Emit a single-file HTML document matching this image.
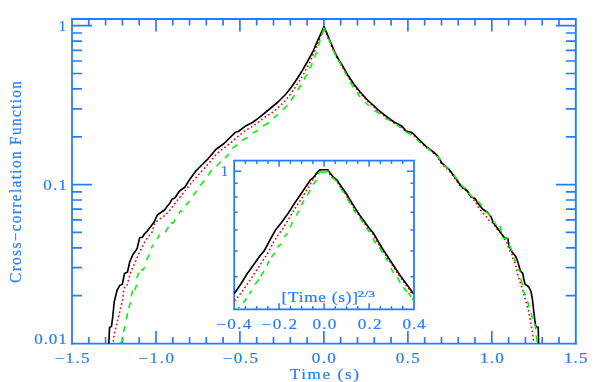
<!DOCTYPE html>
<html><head><meta charset="utf-8"><title>Cross-correlation Function</title>
<style>html,body{margin:0;padding:0;background:#fff;}body{width:599px;height:382px;overflow:hidden;font-family:"Liberation Serif",serif;}svg{display:block;}</style></head>
<body>
<svg width="599" height="382" viewBox="0 0 599 382">
<rect width="599" height="382" fill="#fff"/>
<g stroke="#257cff" stroke-width="1.9" fill="none" stroke-linecap="butt">
<path d="M72.00 18.95H575.80V343.65" stroke-width="1.9" stroke-linecap="square"/>
<path d="M72.00 18.95V343.65" stroke-width="1.8" stroke-linecap="square"/>
<path d="M71.10 343.65H576.70" stroke-width="1.6"/>
<path d="M88.8 343.6v-6.5M88.8 18.9v6.5M105.6 343.6v-6.5M105.6 18.9v6.5M122.4 343.6v-6.5M122.4 18.9v6.5M139.2 343.6v-6.5M139.2 18.9v6.5M156.0 343.6v-12.5M156.0 18.9v12.5M172.8 343.6v-6.5M172.8 18.9v6.5M189.6 343.6v-6.5M189.6 18.9v6.5M206.3 343.6v-6.5M206.3 18.9v6.5M223.1 343.6v-6.5M223.1 18.9v6.5M239.9 343.6v-12.5M239.9 18.9v12.5M256.7 343.6v-6.5M256.7 18.9v6.5M273.5 343.6v-6.5M273.5 18.9v6.5M290.3 343.6v-6.5M290.3 18.9v6.5M307.1 343.6v-6.5M307.1 18.9v6.5M323.9 343.6v-12.5M323.9 18.9v12.5M340.7 343.6v-6.5M340.7 18.9v6.5M357.5 343.6v-6.5M357.5 18.9v6.5M374.3 343.6v-6.5M374.3 18.9v6.5M391.1 343.6v-6.5M391.1 18.9v6.5M407.9 343.6v-12.5M407.9 18.9v12.5M424.7 343.6v-6.5M424.7 18.9v6.5M441.5 343.6v-6.5M441.5 18.9v6.5M458.2 343.6v-6.5M458.2 18.9v6.5M475.0 343.6v-6.5M475.0 18.9v6.5M491.8 343.6v-12.5M491.8 18.9v12.5M508.6 343.6v-6.5M508.6 18.9v6.5M525.4 343.6v-6.5M525.4 18.9v6.5M542.2 343.6v-6.5M542.2 18.9v6.5M559.0 343.6v-6.5M559.0 18.9v6.5M72.0 25.7h20.0M575.8 25.7h-20.0M72.0 184.6h20.0M575.8 184.6h-20.0M72.0 136.8h10.0M575.8 136.8h-10.0M72.0 108.8h10.0M575.8 108.8h-10.0M72.0 88.9h10.0M575.8 88.9h-10.0M72.0 73.5h10.0M575.8 73.5h-10.0M72.0 61.0h10.0M575.8 61.0h-10.0M72.0 50.3h10.0M575.8 50.3h-10.0M72.0 41.1h10.0M575.8 41.1h-10.0M72.0 33.0h10.0M575.8 33.0h-10.0M72.0 295.7h10.0M575.8 295.7h-10.0M72.0 267.7h10.0M575.8 267.7h-10.0M72.0 247.8h10.0M575.8 247.8h-10.0M72.0 232.4h10.0M575.8 232.4h-10.0M72.0 219.9h10.0M575.8 219.9h-10.0M72.0 209.2h10.0M575.8 209.2h-10.0M72.0 200.0h10.0M575.8 200.0h-10.0M72.0 191.9h10.0M575.8 191.9h-10.0" stroke-width="1.7"/>
</g>
<g fill="none" stroke-linejoin="round" stroke-linecap="butt">
<polyline points="113.3,340.9 114.5,332.8 117.5,320.8 120.5,308.3 122.7,299.8 123.5,291.8 124.2,287.8 126.8,286.3 128.7,278.8 131.3,270.5 135.0,262.7 138.3,254.8 139.8,251.0 142.2,248.0 143.0,245.0 147.5,237.5 152.0,232.3 154.3,224.0 158.8,219.5 165.5,215.0 170.0,210.0 175.0,203.5 181.8,194.8 188.5,186.5 195.3,178.3 202.0,170.8 208.8,163.3 215.8,154.8 222.8,148.8 230.0,143.5 236.8,137.5 245.0,130.8 252.6,126.3 260.0,121.0 265.3,116.8 273.5,111.8 281.0,105.0 288.5,96.8 294.5,88.5 299.8,80.3 304.3,72.8 305.3,70.6 309.8,62.3 314.3,51.8 317.7,43.5 320.3,36.8 322.5,30.6 324.0,26.9 326.4,34.0 330.3,43.5 334.8,54.0 339.3,62.2 341.5,65.5 347.5,76.0 353.5,85.0 359.5,92.5 367.0,100.7 374.5,107.5 377.0,110.0 384.5,116.0 393.5,122.7 398.0,125.0 401.8,127.2 405.5,131.7 411.5,133.2 414.5,136.2 420.5,142.2 425.5,147.0 431.5,151.5 436.8,156.0 441.3,163.5 448.0,169.5 453.3,176.2 458.5,183.7 461.3,187.5 467.0,191.2 470.8,197.2 475.0,201.0 476.0,202.5 477.5,206.3 479.8,209.3 482.8,212.7 485.8,216.0 488.3,219.8 491.8,221.8 494.3,225.0 496.7,228.8 499.7,231.8 502.3,235.3 504.5,239.0 506.8,242.3 508.3,246.8 509.8,250.5 512.0,254.3 512.8,258.0 514.3,261.8 515.8,265.8 516.8,270.0 517.7,274.3 518.7,278.0 521.3,285.8 523.8,294.2 526.2,302.3 528.3,310.3 530.0,318.5 531.5,326.8 532.2,330.9 533.8,343.6" stroke="#ff0000" stroke-width="1.75" stroke-dasharray="0.1 4.1" stroke-linecap="round"/>
<polyline points="108.8,343.6 109.6,327.2 111.5,326.5 112.7,317.0 114.2,302.0 116.0,294.5 117.2,290.0 120.0,285.2 122.3,284.3 124.5,273.5 127.5,272.0 129.8,261.5 132.8,254.8 136.5,249.5 137.2,248.2 139.7,237.5 142.2,237.5 144.5,233.8 147.5,230.8 154.3,221.8 157.3,215.0 164.8,209.8 166.8,206.8 170.0,203.0 172.0,199.2 175.0,197.8 179.5,191.0 184.8,187.3 190.0,179.0 196.0,170.8 202.8,164.0 208.0,158.8 209.8,156.8 215.8,149.5 224.0,143.5 235.3,132.3 238.3,131.5 245.0,126.3 252.6,122.5 260.0,116.8 269.0,109.5 278.0,102.0 285.5,94.5 291.5,87.0 297.6,78.0 301.5,71.8 307.5,61.5 313.5,50.3 318.0,39.8 321.9,31.4 324.0,26.5 326.9,33.3 330.8,42.8 335.3,53.3 339.8,61.5 342.0,64.8 348.0,75.3 354.0,84.3 360.0,91.8 367.5,100.0 375.0,106.8 377.5,109.3 385.0,115.3 394.0,122.0 398.5,124.3 402.3,126.5 406.0,131.0 412.0,132.5 415.0,135.5 421.0,141.5 426.0,146.3 432.0,150.8 437.3,155.3 441.8,162.8 448.5,168.8 453.8,175.5 459.0,183.0 461.8,186.8 467.0,190.5 470.8,196.5 475.3,198.8 478.3,204.0 482.8,209.3 487.3,212.3 491.0,216.8 493.3,222.8 495.5,225.5 500.0,231.8 504.5,237.8 507.8,238.5 509.0,245.3 512.0,252.0 515.8,256.5 518.0,262.5 520.3,270.8 522.8,273.3 523.8,279.0 525.0,284.0 528.8,287.0 531.0,291.5 532.5,299.8 533.7,311.0 535.2,323.0 535.8,326.8 538.2,327.3 538.6,343.6" stroke="#000" stroke-width="1.65"/>
<path d="M119.8 342.7L122.0 341.8L123.1 338.0M123.5 332.0L125.0 326.0M126.2 319.3L127.7 313.3M128.8 308.0L130.5 302.3M131.2 296.4L132.6 290.5M135.0 290.0L136.5 284.8M136.8 278.0L138.8 272.8M141.0 269.0L142.5 270.2L144.8 267.2M146.6 260.2L149.2 254.5M151.1 248.4L153.2 244.6M157.3 239.0L159.5 234.5M165.2 232.3L168.5 227.0M170.8 222.5L173.0 223.3L175.3 219.5M179.0 213.5L180.5 211.0L182.7 211.3M185.6 205.2L189.6 201.1M193.0 195.5L196.8 191.0M200.2 185.8L204.3 180.5M208.0 175.3L211.8 170.0M216.3 166.3L220.8 161.8M225.0 157.8L229.0 154.0M232.3 148.3L237.5 144.7M242.0 140.5L247.7 137.5M252.6 133.0L257.8 130.5M263.0 126.3L269.0 122.5M273.5 117.8L277.8 114.5M282.7 110.0L287.4 105.2M290.8 100.5L294.5 95.3M297.6 90.0L301.3 84.8M303.9 79.5L306.9 74.3M309.7 68.3L312.3 63.4M314.3 57.8L316.8 51.8M318.1 46.0L320.2 40.2M321.9 34.9L324.1 27.9L325.3 31.3M328.4 38.2L330.8 43.8M333.0 49.3L336.0 56.3M338.3 59.8L341.3 65.5M344.3 70.8L346.5 75.3M350.3 82.0L353.3 87.3M357.0 92.5L360.0 97.0M365.3 102.3L369.0 106.0M374.6 110.5L379.8 113.8M385.0 118.3L390.3 120.5M396.3 124.3L400.8 128.0M406.0 131.8L411.3 135.2M416.5 139.3L420.3 143.0M426.9 147.6L430.6 150.8M437.3 156.0L440.3 159.8M444.0 165.0L448.5 168.8M453.8 174.8L456.8 179.3M460.8 184.5L464.9 188.3M468.5 192.8L473.0 198.0M477.5 201.0L482.0 205.5M485.8 211.5L490.3 216.0M493.3 221.3L496.3 225.0M500.0 226.0L501.3 231.8M502.3 237.8L507.5 238.8M509.0 244.5L512.0 251.3M513.5 257.3L515.8 262.5M516.5 269.8L518.8 270.0L520.3 271.8M520.7 278.5L522.8 285.5M522.8 290.0L525.8 295.3M527.3 301.3L529.5 307.3M531.0 313.3L532.8 319.3M534.8 323.8L535.9 329.5M536.3 335.5L537.3 342.8" stroke="#05f505" stroke-width="1.6"/>
</g>
<g stroke="#257cff" stroke-width="1.9" fill="none" stroke-linecap="butt">
<rect x="234.20" y="160.60" width="179.80" height="148.75" stroke-width="1.8"/>
<path d="M245.4 309.4v-3.3M245.4 160.6v3.3M256.7 309.4v-3.3M256.7 160.6v3.3M267.9 309.4v-3.3M267.9 160.6v3.3M279.1 309.4v-6.2M279.1 160.6v6.2M290.4 309.4v-3.3M290.4 160.6v3.3M301.6 309.4v-3.3M301.6 160.6v3.3M312.9 309.4v-3.3M312.9 160.6v3.3M324.1 309.4v-6.2M324.1 160.6v6.2M335.3 309.4v-3.3M335.3 160.6v3.3M346.6 309.4v-3.3M346.6 160.6v3.3M357.8 309.4v-3.3M357.8 160.6v3.3M369.1 309.4v-6.2M369.1 160.6v6.2M380.3 309.4v-3.3M380.3 160.6v3.3M391.5 309.4v-3.3M391.5 160.6v3.3M402.8 309.4v-3.3M402.8 160.6v3.3M234.2 276.7h3.5M414.0 276.7h-3.5M234.2 251.0h3.5M414.0 251.0h-3.5M234.2 230.0h3.5M414.0 230.0h-3.5M234.2 212.2h3.5M414.0 212.2h-3.5M234.2 196.9h3.5M414.0 196.9h-3.5M234.2 183.3h3.5M414.0 183.3h-3.5M234.2 171.2h7.0M414.0 171.2h-7.0" stroke-width="1.5"/>
</g>
<g fill="none" stroke-linejoin="round" stroke-linecap="butt">
<polyline points="235.0,300.3 239.5,295.0 245.5,286.8 251.5,277.8 257.5,268.8 263.5,259.8 268.6,251.7 273.0,243.0 277.5,235.5 282.8,228.8 287.3,221.3 291.8,213.8 296.3,206.3 300.0,201.0 307.5,188.8 314.3,177.5 318.8,170.8 324.0,169.9 327.6,170.1 329.4,173.8 332.4,177.6 336.2,180.6 340.7,187.3 346.0,194.8 350.0,201.6 354.4,208.7 359.0,215.7 364.4,223.3 368.9,229.3 372.7,233.8 377.9,242.8 382.4,250.3 386.6,256.5 392.9,266.3 398.9,275.3 404.9,283.6 409.4,289.6 412.6,294.4" stroke="#ff0000" stroke-width="1.75" stroke-dasharray="0.1 4.0" stroke-linecap="round"/>
<polyline points="234.3,293.5 241.0,283.8 247.0,274.0 254.5,263.5 259.8,256.0 264.2,250.9 270.8,238.5 275.3,230.3 281.3,222.8 287.3,214.6 293.6,204.7 300.0,195.3 306.0,186.5 310.5,179.8 313.5,177.5 317.3,172.3 319.8,169.7 327.8,169.7 330.0,173.0 333.0,176.8 336.8,179.8 341.3,186.5 346.6,194.0 350.6,200.8 355.0,207.9 359.6,214.9 365.0,222.5 369.5,228.5 373.3,233.0 378.5,242.0 383.0,249.5 387.2,255.7 393.5,265.5 399.5,274.5 405.5,282.8 410.0,288.8 413.2,293.6" stroke="#000" stroke-width="1.65"/>
<path d="M238.0 308.5L239.6 306.8M243.2 303.0L246.5 298.2M249.4 294.0L251.0 291.2L252.0 291.4M254.7 284.5L258.3 280.8L258.8 279.2M260.7 276.3L263.9 271.0M267.0 265.6L269.0 261.0M271.3 257.2L274.8 253.0M277.5 247.3L281.3 243.8M284.3 237.0L287.3 233.3M290.3 227.3L292.5 222.0M296.3 215.5L298.9 210.6M301.3 205.4L304.0 200.5M307.3 195.2L310.3 189.9M313.1 184.4L316.5 179.9M318.3 174.5L320.0 171.4L324.0 172.8L328.6 170.9M332.6 177.5L336.9 181.8M340.6 187.6L343.4 192.8M347.3 198.5L350.2 203.6M353.1 208.6L356.1 213.2M360.2 218.0L362.8 222.5M366.5 227.8L369.5 232.3M372.8 238.3L375.8 243.5M379.3 247.3L382.3 252.5M385.3 257.3L387.5 261.0M390.8 267.8L393.5 273.0M397.3 277.5L400.3 282.8M403.3 287.3L406.8 291.8M408.4 293.0L411.0 296.7M412.3 298.3L413.7 301.2" stroke="#05f505" stroke-width="1.6"/>
</g>
<g fill="#257cff" font-family="'Liberation Serif', serif" opacity="0.999" stroke="#257cff" stroke-width="0.2">
<text transform="translate(54.39,363.00) scale(1.200,1)" font-size="14.3" textLength="29.39" lengthAdjust="spacing">−1.5</text>
<text transform="translate(138.17,363.00) scale(1.200,1)" font-size="14.3" textLength="29.98" lengthAdjust="spacing">−1.0</text>
<text transform="translate(222.54,363.00) scale(1.200,1)" font-size="14.3" textLength="29.61" lengthAdjust="spacing">−0.5</text>
<text transform="translate(311.86,363.00) scale(1.200,1)" font-size="14.3" textLength="20.07" lengthAdjust="spacing">0.0</text>
<text transform="translate(395.67,363.00) scale(1.200,1)" font-size="14.3" textLength="20.15" lengthAdjust="spacing">0.5</text>
<text transform="translate(479.89,363.00) scale(1.200,1)" font-size="14.3" textLength="19.88" lengthAdjust="spacing">1.0</text>
<text transform="translate(563.89,363.00) scale(1.200,1)" font-size="14.3" textLength="19.80" lengthAdjust="spacing">1.5</text>
<text transform="translate(289.73,379.20) scale(1.200,1)" font-size="14.3" textLength="57.64" lengthAdjust="spacing">Time (s)</text>
<text transform="translate(34.32,343.80) scale(1.200,1)" font-size="14.3" textLength="27.12" lengthAdjust="spacing">0.01</text>
<text transform="translate(43.32,189.50) scale(1.200,1)" font-size="14.3" textLength="19.62" lengthAdjust="spacing">0.1</text>
<text transform="translate(58.63,31.00) scale(1.000,1)" font-size="14.6">1</text>
<text transform="translate(216.11,328.60) scale(1.200,1)" font-size="14.3" textLength="29.38" lengthAdjust="spacing">−0.4</text>
<text transform="translate(261.51,328.60) scale(1.200,1)" font-size="14.3" textLength="29.72" lengthAdjust="spacing">−0.2</text>
<text transform="translate(312.58,328.60) scale(1.200,1)" font-size="14.3" textLength="19.70" lengthAdjust="spacing">0.0</text>
<text transform="translate(357.81,328.60) scale(1.200,1)" font-size="14.3" textLength="19.71" lengthAdjust="spacing">0.2</text>
<text transform="translate(402.58,328.60) scale(1.200,1)" font-size="14.3" textLength="19.23" lengthAdjust="spacing">0.4</text>
<text transform="translate(220.86,176.40) scale(1.000,1)" font-size="14.6">1</text>
<text transform="translate(281.50,302.20) scale(1.200,1)" font-size="14.3" textLength="63.72" lengthAdjust="spacing">[Time (s)]</text>
<text transform="translate(357.48,296.90) scale(1.500,1)" font-size="9.0" textLength="11.74" lengthAdjust="spacing" stroke="#257cff" stroke-width="0.25">2/3</text>
<text transform="translate(20.9,282.90) rotate(-90) scale(1.070,1.12)" font-size="14.3" textLength="188.69" lengthAdjust="spacing">Cross−correlation Function</text>
</g>
</svg>
</body></html>
